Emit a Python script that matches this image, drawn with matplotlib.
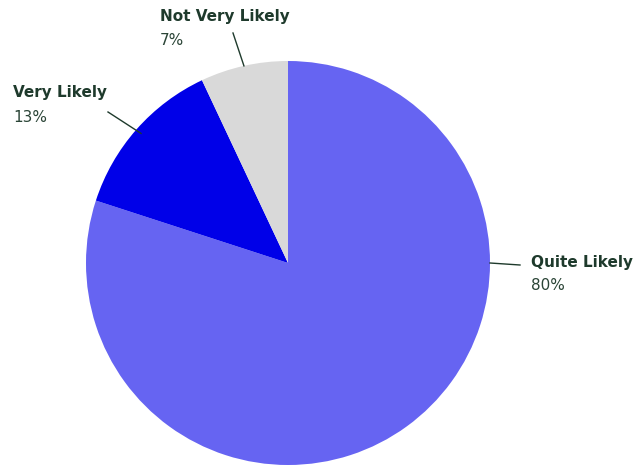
import matplotlib
matplotlib.use("Agg")
import matplotlib.pyplot as plt
import numpy as np

categories = ["Quite Likely", "Very Likely", "Not Very Likely"]
values = [80, 13, 7]
colors = ["#6664F2", "#0000E8", "#D9D9D9"]
pct_labels = ["80%", "13%", "7%"]

W, H = 644, 468
fig = plt.figure(figsize=(W / 100, H / 100), dpi=100)
cx, cy, r = 288, 263, 202
ax = fig.add_axes([(cx - r) / W, (H - cy - r) / H, 2 * r / W, 2 * r / H])
wedges, _ = ax.pie(values, colors=colors, startangle=90, counterclock=False,
                   radius=1.0, wedgeprops=dict(linewidth=0))
ax.set_xlim(-1, 1)
ax.set_ylim(-1, 1)
ax.set_aspect("equal")
ax.axis("off")

text_color = "#1E3A2C"
plt.rcParams['font.family'] = ['DejaVu Sans']

def px_to_data(x, y):
    return ((x - cx) / r, (cy - y) / r)

layout = {
    "Quite Likely": dict(ang=0.0, r0=1.0, end=(520, 265), txt=(531, 262)),
    "Very Likely": dict(ang=None, r0=0.97, end=(108, 112), txt=(13, 93)),
    "Not Very Likely": dict(ang=None, r0=1.0, end=(233, 33), txt=(160, 17)),
}

for w, cat, pct in zip(wedges, categories, pct_labels):
    L = layout[cat]
    ang = L["ang"] if L["ang"] is not None else (w.theta1 + w.theta2) / 2
    a = np.deg2rad(ang)
    sx, sy = L["r0"] * np.cos(a), L["r0"] * np.sin(a)
    ex, ey = px_to_data(*L["end"])
    ax.plot([sx, ex], [sy, ey], color=text_color, lw=1.0, clip_on=False)
    tx, ty = px_to_data(*L["txt"])
    ax.text(tx, ty, cat, fontsize=11, fontweight="bold", color=text_color,
            ha="left", va="center", clip_on=False)
    tx2, ty2 = px_to_data(L["txt"][0], L["txt"][1] + 24)
    ax.text(tx2, ty2, pct, fontsize=11, color="#2A4436",
            ha="left", va="center", clip_on=False)

fig.savefig("out.png", dpi=100)
